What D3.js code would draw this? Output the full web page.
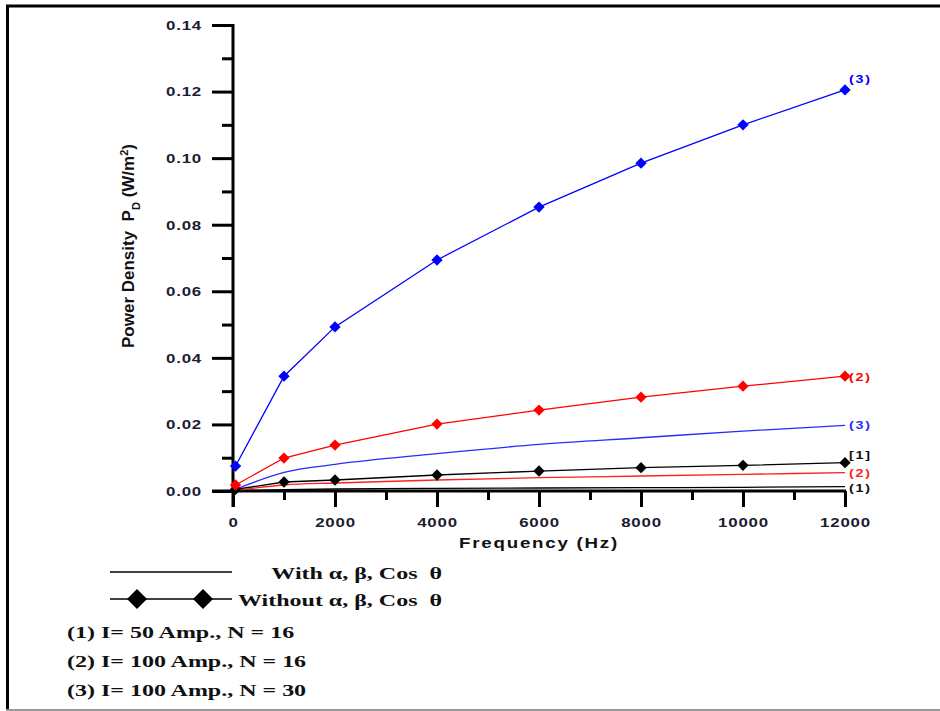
<!DOCTYPE html>
<html>
<head>
<meta charset="utf-8">
<script src="https://cdn.jsdelivr.net/npm/d3@7"></script>
<style>
  body { margin: 0; background: #fff; }
  text { font-family: "Liberation Sans", Arial, sans-serif; white-space: pre; }
</style>
</head>
<body>
<div id="my_dataviz"></div>
<script>
// frequencies (Hz) on the x axis
const freqs = [50, 1000, 2000, 4000, 6000, 8000, 10000, 12000];

// without alpha, beta, cos theta (diamond markers)
const without1 = [0.0005, 0.0027, 0.0033, 0.0048, 0.0060, 0.0070, 0.0077, 0.0085];
const without2 = [0.0018, 0.0099, 0.0138, 0.0201, 0.0243, 0.0282, 0.0315, 0.0345];
const without3 = [0.0075, 0.0345, 0.0493, 0.0694, 0.0853, 0.0985, 0.1100, 0.1205];

// with alpha, beta, cos theta (plain lines)
const with1 = [0.0001, 0.0004, 0.0006, 0.0008, 0.0009, 0.0010, 0.0011, 0.0013];
const with2 = [0.0002, 0.0018, 0.0024, 0.0033, 0.0040, 0.0045, 0.0050, 0.0055];
const with3 = [0.0005, 0.0056, 0.0080, 0.0112, 0.0140, 0.0160, 0.0180, 0.0197];

// axis ticks
const xTicks = [0, 2000, 4000, 6000, 8000, 10000, 12000];
const xMinor = [1000, 3000, 5000, 7000, 9000, 11000];
const yTicks = [0, 0.02, 0.04, 0.06, 0.08, 0.10, 0.12, 0.14];
const yMinor = [0.01, 0.03, 0.05, 0.07, 0.09, 0.11, 0.13];

// legend texts
const legendKinds = ["With \u03b1, \u03b2, Cos  \u03b8", "Without \u03b1, \u03b2, Cos  \u03b8"];
const legendCases = ["(1) I= 50 Amp., N = 16", "(2) I= 100 Amp., N = 16", "(3) I= 100 Amp., N = 30"];

// series table built from the arrays above
const series = [
    { values: with1, color: "#000000", marker: false, label: "(1)", dy: 1 },
    { values: with2, color: "#ff2020", marker: false, label: "(2)", dy: 0 },
    { values: with3, color: "#2a2aff", marker: false, label: "(3)", dy: 0 },
    { values: without1, color: "#000000", marker: true, label: "[1]", dy: -8 },
    { values: without2, color: "#ff0000", marker: true, label: "(2)", dy: 1 },
    { values: without3, color: "#0000ff", marker: true, label: "(3)", dy: -11 },
];

const W = 940, H = 711;
const svg = d3.select("#my_dataviz")
    .append("svg")
    .attr("width", W)
    .attr("height", H);

// frame
svg.append("line").attr("x1", 6).attr("x2", W).attr("y1", 6).attr("y2", 6)
    .attr("stroke", "#000").attr("stroke-width", 3);
svg.append("line").attr("x1", 7.5).attr("x2", 7.5).attr("y1", 5).attr("y2", H)
    .attr("stroke", "#000").attr("stroke-width", 3);
svg.append("line").attr("x1", 6).attr("x2", W).attr("y1", 710).attr("y2", 710)
    .attr("stroke", "#999").attr("stroke-width", 2);

const x = d3.scaleLinear().domain([0, 12000]).range([233, 845]);
const y = d3.scaleLinear().domain([0, 0.14]).range([491, 25]);

const numFont = { size: 12.5, sx: 1.35 };

// y axis ticks and labels
const yAxis = svg.append("g")
    .attr("transform", `translate(${x(0)},0)`)
    .call(d3.axisLeft(y).tickValues(yTicks).tickSize(21).tickSizeOuter(0).tickFormat(d3.format(".2f")));
yAxis.select(".domain").remove();
yAxis.selectAll(".tick line").attr("stroke", "#000").attr("stroke-width", 3);
yAxis.selectAll(".tick text")
    .attr("x", 0).attr("dy", "0.35em")
    .attr("transform", `translate(-31,0) scale(${numFont.sx},1)`)
    .attr("fill", "#1c1c30")
    .style("font-size", numFont.size + "px")
    .style("font-weight", "bold")
    .style("letter-spacing", "0.6px");
svg.append("g")
    .attr("transform", `translate(${x(0)},0)`)
    .call(d3.axisLeft(y).tickValues(yMinor).tickSize(11).tickSizeOuter(0).tickFormat(""))
    .call(g => g.select(".domain").remove())
    .call(g => g.selectAll(".tick line").attr("stroke", "#000").attr("stroke-width", 3));

// x axis ticks and labels
const xAxis = svg.append("g")
    .attr("transform", `translate(0,${y(0)})`)
    .call(d3.axisBottom(x).tickValues(xTicks).tickSize(16).tickSizeOuter(0).tickFormat(d3.format("d")));
xAxis.select(".domain").remove();
xAxis.selectAll(".tick line").attr("stroke", "#000").attr("stroke-width", 3);
xAxis.selectAll(".tick text")
    .attr("y", 0).attr("dy", 0)
    .attr("transform", `translate(0,36) scale(${numFont.sx},1)`)
    .attr("fill", "#1c1c30")
    .style("font-size", numFont.size + "px")
    .style("font-weight", "bold")
    .style("letter-spacing", "0.6px");
svg.append("g")
    .attr("transform", `translate(0,${y(0)})`)
    .call(d3.axisBottom(x).tickValues(xMinor).tickSize(9).tickSizeOuter(0).tickFormat(""))
    .call(g => g.select(".domain").remove())
    .call(g => g.selectAll(".tick line").attr("stroke", "#000").attr("stroke-width", 3));

// main axis lines
svg.append("line")
    .attr("x1", x(0)).attr("x2", x(0)).attr("y1", y(0.14) - 1).attr("y2", y(0) + 16)
    .attr("stroke", "#000").attr("stroke-width", 3);
svg.append("line")
    .attr("x1", x(0) - 21).attr("x2", x(12000) + 1).attr("y1", y(0)).attr("y2", y(0))
    .attr("stroke", "#000").attr("stroke-width", 3);

// axis titles
svg.append("text")
    .attr("transform", `translate(${(x(0) + x(12000)) / 2},548) scale(1.25,1)`)
    .attr("text-anchor", "middle")
    .style("font-size", "15px")
    .style("font-weight", "bold")
    .style("letter-spacing", "1.4px")
    .attr("fill", "#111")
    .text("Frequency (Hz)");

const yTitle = svg.append("text")
    .attr("transform", "translate(134,246) rotate(-90)")
    .attr("text-anchor", "middle")
    .style("font-size", "17px")
    .style("font-weight", "bold")
    .attr("fill", "#111");
yTitle.append("tspan").text("Power Density  P");
yTitle.append("tspan").attr("baseline-shift", "sub").style("font-size", "11px").text("D");
yTitle.append("tspan").text(" (W/m");
yTitle.append("tspan").attr("baseline-shift", "super").style("font-size", "11px").text("2");
yTitle.append("tspan").text(")");

// lines
const line = d3.line()
    .x((d, i) => x(freqs[i]))
    .y(d => y(d));

const diamond = d3.symbol().type(d3.symbolSquare).size(64);

series.forEach(s => {
    svg.append("path")
        .datum(s.values)
        .attr("fill", "none")
        .attr("stroke", s.color)
        .attr("stroke-width", 1.3)
        .attr("d", line.curve(s.marker ? d3.curveLinear : d3.curveMonotoneX));

    if (s.marker) {
        svg.selectAll(null)
            .data(s.values)
            .join("path")
            .attr("d", diamond)
            .attr("transform", (d, i) => `translate(${x(freqs[i])},${y(d)}) rotate(45)`)
            .attr("fill", s.color);
    }

    const last = s.values[s.values.length - 1];
    svg.append("text")
        .attr("transform", `translate(${x(12000) + 4},${y(last) + s.dy}) scale(1.3,1)`)
        .attr("dy", "0.35em")
        .style("font-size", "11px")
        .style("font-weight", "bold")
        .style("letter-spacing", "1.4px")
        .attr("fill", s.color === "#000000" ? "#111" : s.color)
        .text(s.label);
});

// legend
const legendFont = "'Liberation Serif', 'Times New Roman', serif";
const legY = [572, 599];
legY.forEach((ly, i) => {
    svg.append("line")
        .attr("x1", 110).attr("x2", 232).attr("y1", ly).attr("y2", ly)
        .attr("stroke", "#000").attr("stroke-width", 1.3);
    svg.append("text")
        .attr("transform", `translate(442,${ly + 7}) scale(1.5,1)`)
        .attr("text-anchor", "end")
        .style("font-family", legendFont)
        .style("font-size", "16px")
        .style("font-weight", "bold")
        .attr("fill", "#111")
        .text(legendKinds[i]);
});
svg.selectAll(null)
    .data([137, 203])
    .join("path")
    .attr("d", d3.symbol().type(d3.symbolSquare).size(200))
    .attr("transform", d => `translate(${d},${legY[1]}) rotate(45)`)
    .attr("fill", "#000");

legendCases.forEach((t, i) => {
    svg.append("text")
        .attr("transform", `translate(67,${638 + i * 29}) scale(1.5,1)`)
        .style("font-family", legendFont)
        .style("font-size", "16px")
        .style("font-weight", "bold")
        .attr("fill", "#111")
        .text(t);
});
</script>
</body>
</html>
